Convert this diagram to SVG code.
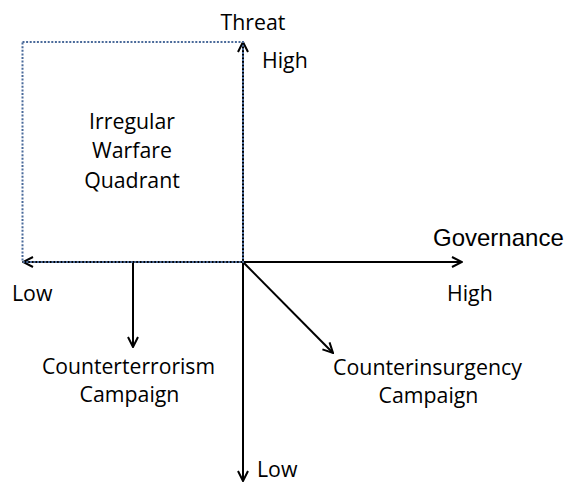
<svg xmlns="http://www.w3.org/2000/svg" width="566" height="485" viewBox="0 0 566 485">
<style>
.t{font-family:"Open Sans","Noto Sans",sans-serif;font-size:21.3px;fill:#000}
.c{text-anchor:middle}
.g{font-family:"Liberation Sans",Arial,sans-serif;font-size:24px;fill:#000}
.ax{stroke:#000;stroke-width:2;fill:none}
.dot{stroke:#4a6a9a;stroke-width:2;stroke-dasharray:2 1.6;fill:none}
</style>
<defs>
<marker id="ah" viewBox="0 0 12 12" refX="11" refY="6" markerWidth="12" markerHeight="12" markerUnits="userSpaceOnUse" orient="auto">
<path d="M1,1 L11,6 L1,11" fill="none" stroke="#000" stroke-width="2"/>
</marker>
</defs>
<g id="connectors">
<line class="ax" x1="243" y1="262" x2="462" y2="262" marker-end="url(#ah)"/>
<line class="ax" x1="243" y1="262" x2="23" y2="262" marker-end="url(#ah)" stroke="#2c3e5c"/>
<line class="ax" x1="243" y1="262" x2="243" y2="42" marker-end="url(#ah)"/>
<line class="ax" x1="243" y1="262" x2="243" y2="481" marker-end="url(#ah)"/>
<line class="ax" x1="133" y1="262" x2="133" y2="347" marker-end="url(#ah)"/>
<line class="ax" x1="243" y1="262" x2="333" y2="353" marker-end="url(#ah)"/>
</g>
<g id="quadrant">
<rect class="dot" x="22.5" y="42" width="220.5" height="220"/>
<text class="t c" x="132" y="129">Irregular</text>
<text class="t c" x="132" y="158">Warfare</text>
<text class="t c" x="132" y="188">Quadrant</text>
</g>
<g id="threat-axis">
<text class="t c" x="253" y="30">Threat</text>
<text class="t" x="262" y="68">High</text>
<text class="t" x="257" y="477">Low</text>
</g>
<g id="governance-axis">
<text class="g" x="433" y="246">Governance</text>
<text class="t" x="447" y="301">High</text>
<text class="t" x="12" y="301">Low</text>
</g>
<g id="counterterrorism">
<text class="t c" x="128.5" y="374" textLength="173" lengthAdjust="spacingAndGlyphs">Counterterrorism</text>
<text class="t c" x="129.5" y="402">Campaign</text>
</g>
<g id="counterinsurgency">
<text class="t c" x="427.5" y="375" textLength="189" lengthAdjust="spacingAndGlyphs">Counterinsurgency</text>
<text class="t c" x="428.5" y="403">Campaign</text>
</g>
</svg>
